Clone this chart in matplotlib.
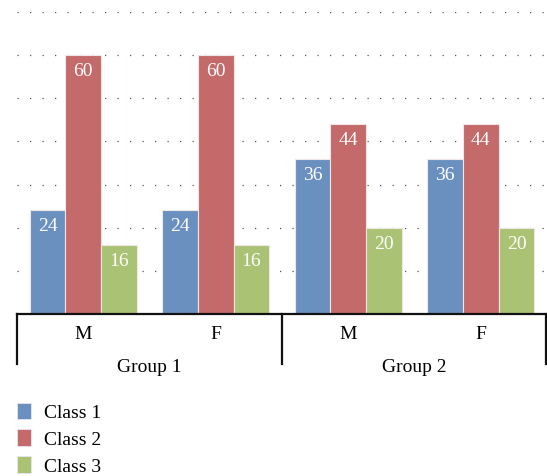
import numpy as np
import matplotlib.pyplot as plt
from matplotlib.patches import Patch
from matplotlib.transforms import blended_transform_factory

# ===============================================================================
#         Data
# ===============================================================================

groups = ["Group 1", "Group 2"]
sexes = ["M", "F"]
classes = ["Class 1", "Class 2", "Class 3"]
class_1 = [24, 24, 36, 36]
class_2 = [60, 60, 44, 44]
class_3 = [16, 16, 20, 20]

colors = ["#6a90bf", "#c46a6a", "#a9c274"]

plt.rcParams["font.family"] = ["Liberation Serif", "DejaVu Serif"]

# ===============================================================================
#         Plot
# ===============================================================================

fig = plt.figure(figsize=(5.47, 4.77), dpi=100)
ax = fig.add_axes([17 / 547, 162 / 477, 530 / 547, 302 / 477])

x = np.arange(len(sexes) * len(groups))
width = 0.27
series = [class_1, class_2, class_3]

for i, (vals, color) in enumerate(zip(series, colors)):
    pos = x + (i - 1) * width
    bars = ax.bar(pos, vals, width, color=color, edgecolor="#f0e6e6",
                  linewidth=0.8, zorder=2)
    for b, v in zip(bars, vals):
        ax.text(b.get_x() + b.get_width() / 2, v - 1.6, str(v),
                ha="center", va="top", color="white", fontsize=14, zorder=3)

ax.set_xlim(-0.5, 3.5)
ax.set_ylim(0, 70)
ax.set_yticks(np.arange(10, 80, 10))
ax.yaxis.grid(True, linestyle=(0, (1, 9)), color="#555555", linewidth=0.9,
              zorder=0)
ax.tick_params(axis="y", left=False, labelleft=False)
ax.tick_params(axis="x", length=0, pad=8, labelsize=14)
ax.set_xticks(x)
ax.set_xticklabels(sexes * len(groups))
for s in ["top", "right", "left", "bottom"]:
    ax.spines[s].set_visible(False)

# bracket lines under the axis
trans = blended_transform_factory(ax.transData, ax.transAxes)
drop = -50 / 302
ax.plot([-0.5, 3.5], [0, 0], transform=trans, color="#111111",
        linewidth=1.6, clip_on=False, zorder=4)
for xv in [-0.5, 1.5, 3.49]:
    ax.plot([xv, xv], [0, drop], transform=trans, color="#111111",
            linewidth=1.6, clip_on=False, zorder=4)
for gx, g in zip([0.5, 2.5], groups):
    ax.text(gx, -52 / 302, g, transform=trans, ha="center", va="center",
            fontsize=14)

# legend
handles = [Patch(facecolor=c, edgecolor="#e6e6f0", linewidth=0.6)
           for c in colors]
fig.legend(handles, classes, loc="upper left", bbox_to_anchor=(0.0315, 0.154),
           frameon=False, fontsize=14, handlelength=0.7, handleheight=0.9,
           handletextpad=0.7, labelspacing=0.42, borderaxespad=0,
           borderpad=0)

fig.savefig("out.png", dpi=100)
